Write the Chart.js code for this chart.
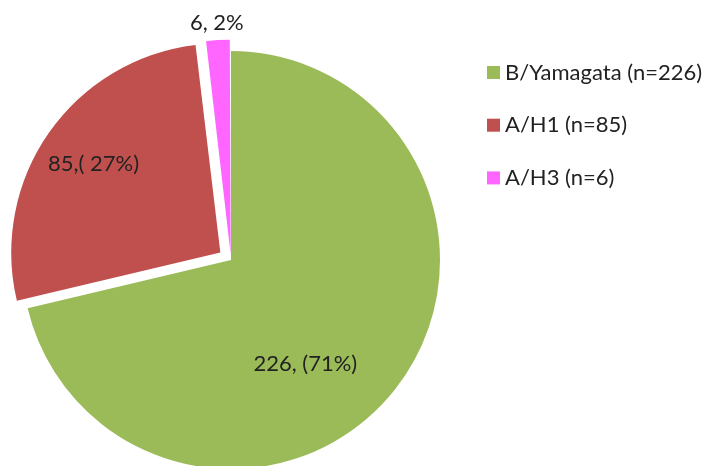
<!DOCTYPE html>
<html>
<head>
<meta charset="utf-8">
<script src="https://cdn.jsdelivr.net/npm/chart.js@4.4.1/dist/chart.umd.min.js"></script>
<style>
  html, body { margin: 0; padding: 0; background: #ffffff; }
  #wrap { width: 708px; height: 466px; }
</style>
</head>
<body>
<div id="wrap"><canvas id="subtypePie" width="708" height="466"></canvas></div>
<script>
// data
const subtypes = ['B/Yamagata (n=226)', 'A/H1 (n=85)', 'A/H3 (n=6)'];
const counts = [226, 85, 6];
const sliceLabels = ['226, (71%)', '85,( 27%)', '6, 2%'];

const sliceColors = ['#9BBB59', '#C0504D', '#FF66FF'];
const textColor = '#222222';
const labelFont = '22px Lato';
const legendFont = '22px Lato';

// chart.js v4 moves an arc by offset / 4
const sliceOffsets = [0, 52, 24];

// where each slice label sits: fraction of radius, and turn (deg) off the slice middle
const labelSpots = [
    { frac: 0.61, turn: 16 },
    { frac: 0.74, turn: 0 },
    { frac: 1.11, turn: 0 }
];

const sliceLabelPlugin = {
  id: 'slice_labels',
  afterDatasetsDraw: function (chart) {
      const ctx = chart.ctx;
      const arcs = chart.getDatasetMeta(0).data;
      ctx.save();
      ctx.font = labelFont;
      ctx.fillStyle = textColor;
      ctx.textAlign = 'center';
      ctx.textBaseline = 'middle';
      arcs.forEach((arc, i) => {
          const p = arc.getProps(['x', 'y', 'startAngle', 'endAngle', 'outerRadius'], true);
          const mid = (p.startAngle + p.endAngle) / 2;
          const shift = sliceOffsets[i] / 4;
          const cx = p.x + Math.cos(mid) * shift;
          const cy = p.y + Math.sin(mid) * shift;
          const a = mid + labelSpots[i].turn * Math.PI / 180;
          const r = p.outerRadius * labelSpots[i].frac;
          ctx.fillText(sliceLabels[i], cx + Math.cos(a) * r, cy + Math.sin(a) * r);
      });
      ctx.restore();
  }
};

// legend drawn by hand so it sits where the reference has it
const sideLegendPlugin = {
  id: 'side_legend',
  afterDraw: function (chart) {
      const ctx = chart.ctx;
      const boxLeft = 487, firstMid = 72.5, step = 52.7, box = 13;
      ctx.save();
      ctx.font = legendFont;
      ctx.textAlign = 'left';
      ctx.textBaseline = 'middle';
      chart.data.labels.forEach((label, i) => {
          const midY = firstMid + i * step;
          ctx.fillStyle = chart.data.datasets[0].backgroundColor[i];
          ctx.fillRect(boxLeft, midY - box / 2, box, box);
          ctx.fillStyle = textColor;
          ctx.fillText(label, 505, midY);
      });
      ctx.restore();
  }
};

function initChart() {
    const ctx = document.getElementById('subtypePie');
    return new Chart(ctx, {
      type: 'pie',
      data: {
        labels: subtypes,
        datasets: [{
          data: counts,
          backgroundColor: sliceColors,
          borderWidth: 0,
          offset: sliceOffsets,
          hoverOffset: 0,
          clip: false
        }]
      },
      plugins: [sliceLabelPlugin, sideLegendPlugin],
      options: {
        responsive: false,
        animation: false,
        radius: 209,
        layout: {
          padding: { left: 0, right: 246, top: 54, bottom: 0 }
        },
        plugins: {
          legend: { display: false },
          tooltip: { enabled: false }
        }
      }
    });
}

document.fonts.load(labelFont).then(() => { window.g_chart = initChart(); });
</script>
</body>
</html>
